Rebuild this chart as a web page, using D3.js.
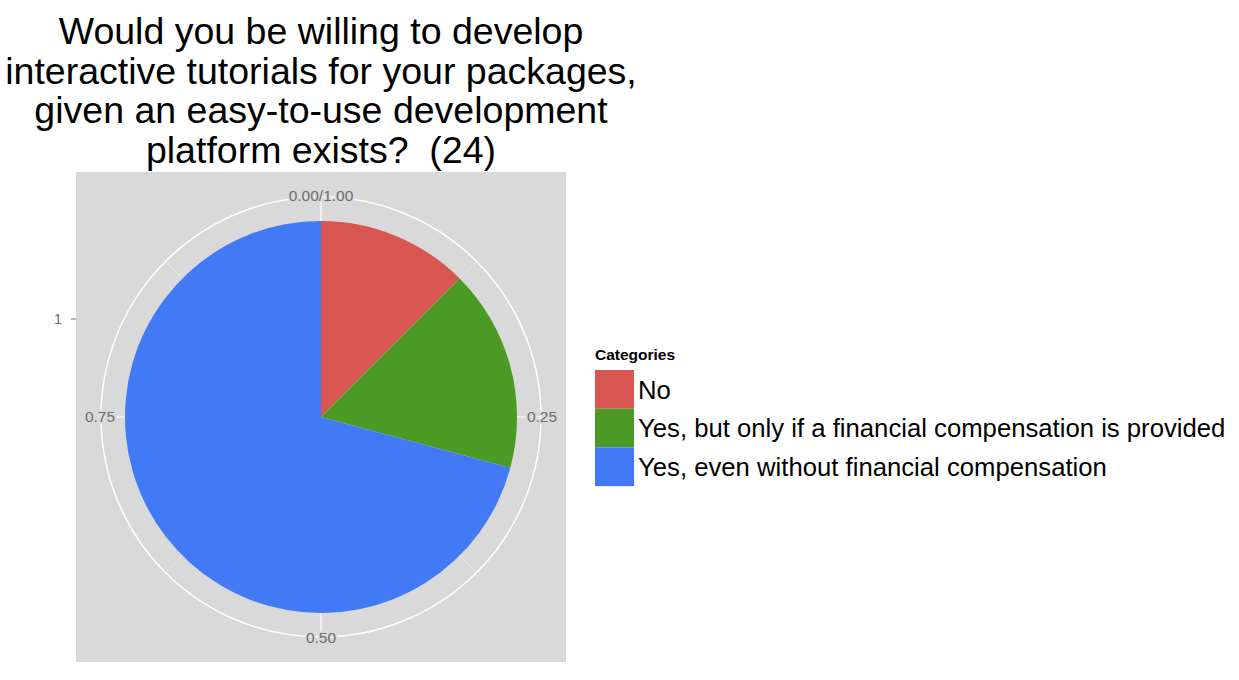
<!DOCTYPE html>
<html>
<head>
<meta charset="utf-8">
<script src="https://cdn.jsdelivr.net/npm/d3@7"></script>
<style>
  body { margin: 0; background: #fff; }
  text { font-family: "Liberation Sans", Arial, Helvetica, sans-serif; white-space: pre; }
</style>
</head>
<body>
<svg id="chart" width="1239" height="680"></svg>
<script>
// data (24 answers)
var categories = ["No", "Yes, but only if a financial compensation is provided", "Yes, even without financial compensation"];
var counts = [3, 4, 17];
var colors = ["#D75652", "#4B9A23", "#427AF6"];
var titleLines = ["Would you be willing to develop", "interactive tutorials for your packages,", "given an easy-to-use development", "platform exists?  (24)"];
var thetaTicks = [0, 0.25, 0.5, 0.75];
var thetaLabels = ["0.00/1.00", "0.25", "0.50", "0.75"];
var thetaMinor = [0.125, 0.375, 0.625, 0.875];
var rTicks = [1];

var svg = d3.select("#chart");

// panel
var panel = {x: 76, y: 172, w: 490, h: 490};
var cx = panel.x + panel.w / 2, cy = panel.y + panel.h / 2;
var pieR = 196, gridR = 220;

svg.append("rect")
  .attr("x", panel.x).attr("y", panel.y)
  .attr("width", panel.w).attr("height", panel.h)
  .attr("fill", "#D9D9D9");

// scales
var theta = d3.scaleLinear().domain([0, 1]).range([0, 2 * Math.PI]);
var r = d3.scaleLinear().domain([0.5, 1.5]).range([0, pieR]);

var g = svg.append("g").attr("transform", "translate(" + cx + "," + cy + ")");

// minor spokes
g.selectAll(".minor")
  .data(thetaMinor)
  .enter().append("line")
  .attr("x1", 0).attr("y1", 0)
  .attr("x2", function(d){ return gridR * Math.sin(theta(d)); })
  .attr("y2", function(d){ return -gridR * Math.cos(theta(d)); })
  .attr("stroke", "#E9E9E9").attr("stroke-width", 0.8);

// major spokes
g.selectAll(".major")
  .data(thetaTicks)
  .enter().append("line")
  .attr("x1", 0).attr("y1", 0)
  .attr("x2", function(d){ return gridR * Math.sin(theta(d)); })
  .attr("y2", function(d){ return -gridR * Math.cos(theta(d)); })
  .attr("stroke", "#fff").attr("stroke-width", 1.2);

// outer circle
g.append("circle").attr("r", gridR)
  .attr("fill", "none").attr("stroke", "#fff").attr("stroke-width", 1.5);

// pie slices
var pie = d3.pie().sort(null).value(function(d){ return d; });
var arc = d3.arc().innerRadius(r(0.5)).outerRadius(r(1.5));

g.selectAll(".slice")
  .data(pie(counts))
  .enter().append("path")
  .attr("d", arc)
  .attr("fill", function(d, i){ return colors[i]; });

// theta labels
g.selectAll(".tlab")
  .data(thetaTicks)
  .enter().append("text")
  .attr("x", function(d){ return (gridR + 1) * Math.sin(theta(d)); })
  .attr("y", function(d){ return -(gridR + 1) * Math.cos(theta(d)); })
  .attr("dy", "0.35em")
  .attr("text-anchor", "middle")
  .attr("font-size", 15.5)
  .attr("fill", "#6E6E6E")
  .attr("stroke", "#D9D9D9").attr("stroke-width", 3)
  .attr("paint-order", "stroke")
  .text(function(d, i){ return thetaLabels[i]; });

// r axis on the left
var rAxis = svg.append("g");
rAxis.selectAll("line")
  .data(rTicks)
  .enter().append("line")
  .attr("x1", panel.x - 5).attr("x2", panel.x)
  .attr("y1", function(d){ return cy - r(d); })
  .attr("y2", function(d){ return cy - r(d); })
  .attr("stroke", "#6E6E6E");
rAxis.selectAll("text")
  .data(rTicks)
  .enter().append("text")
  .attr("x", panel.x - 14)
  .attr("y", function(d){ return cy - r(d); })
  .attr("dy", "0.35em")
  .attr("text-anchor", "end")
  .attr("font-size", 15)
  .attr("fill", "#6E6E6E")
  .text(function(d){ return d; });

// title
svg.append("g").selectAll("text")
  .data(titleLines)
  .enter().append("text")
  .attr("x", 321)
  .attr("y", function(d, i){ return 44 + i * 39.7; })
  .attr("text-anchor", "middle")
  .attr("font-size", 37.5)
  .attr("fill", "#000")
  .text(function(d){ return d; });

// legend
var legend = svg.append("g").attr("transform", "translate(595,370)");
var keyH = 38.7;
legend.append("text")
  .attr("x", 0).attr("y", -10)
  .attr("font-size", 15.5).attr("font-weight", "bold")
  .text("Categories");

var item = legend.selectAll(".item")
  .data(categories)
  .enter().append("g")
  .attr("transform", function(d, i){ return "translate(0," + (i * keyH) + ")"; });
item.append("rect")
  .attr("width", 39).attr("height", keyH)
  .attr("fill", function(d, i){ return colors[i]; });
item.append("text")
  .attr("x", 43).attr("y", keyH / 2)
  .attr("dy", "0.36em")
  .attr("font-size", 25.7)
  .text(function(d){ return d; });
</script>
</body>
</html>
